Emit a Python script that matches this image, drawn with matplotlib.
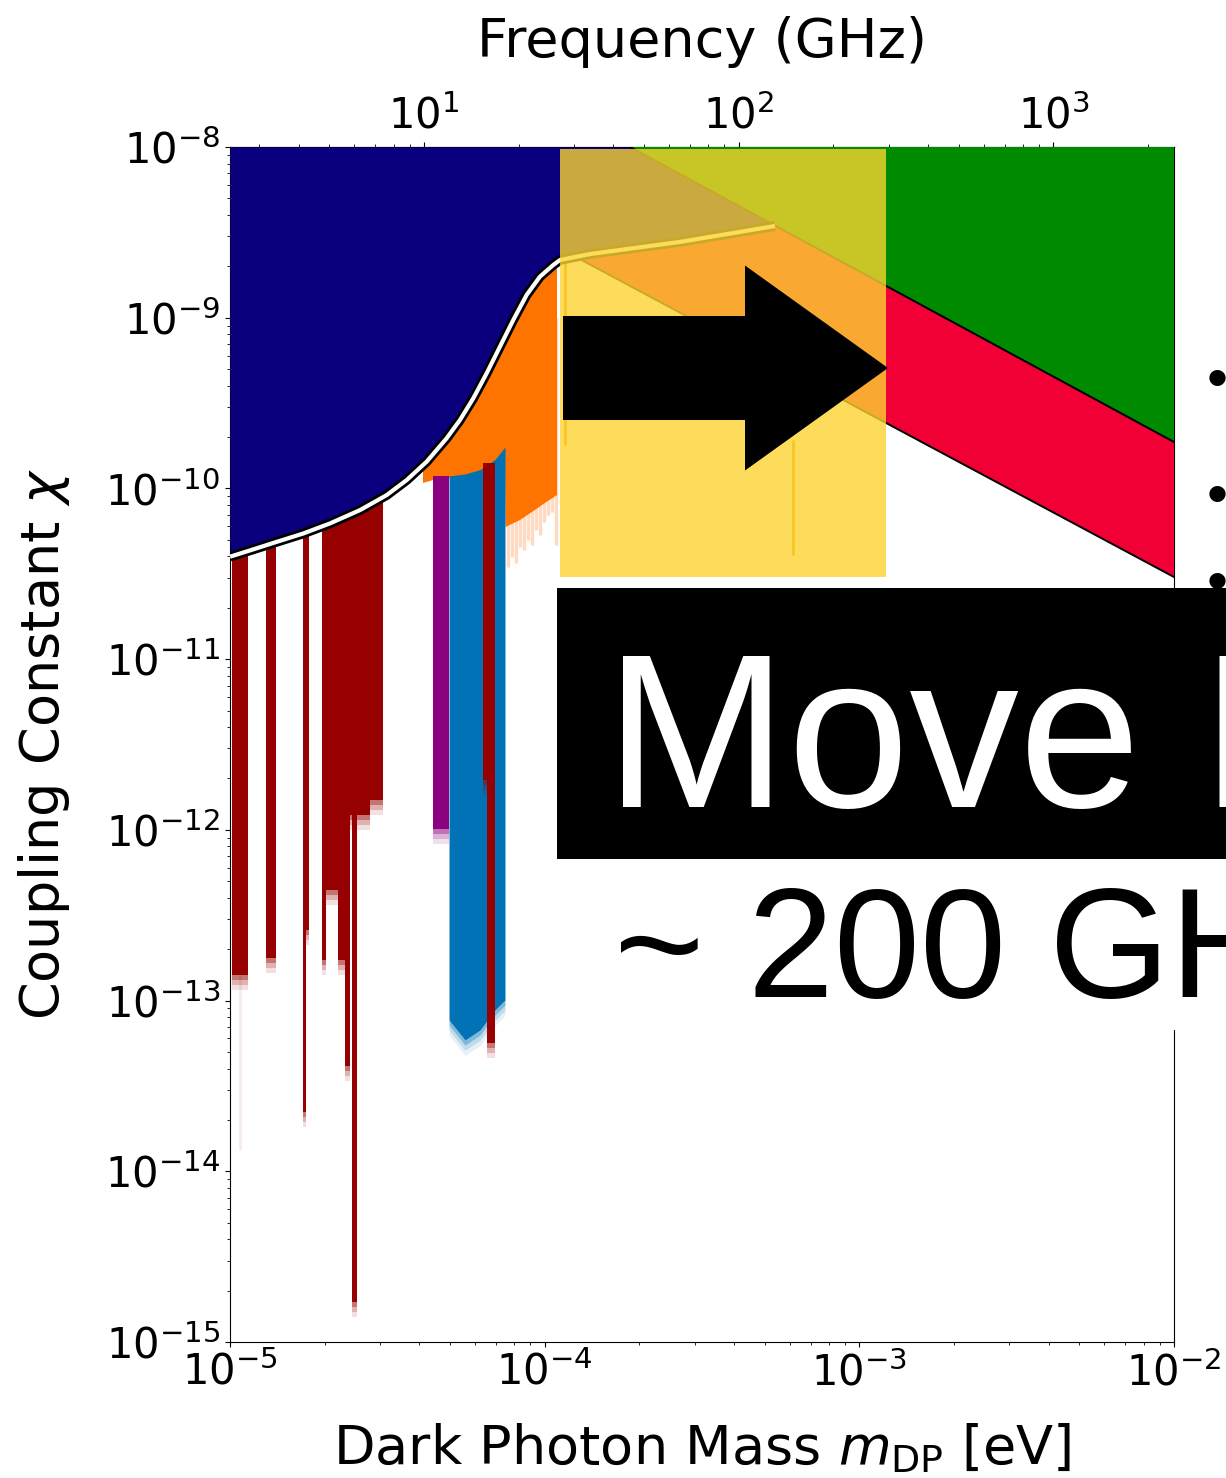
import numpy as np
import matplotlib
matplotlib.use('Agg')
import matplotlib.pyplot as plt
import matplotlib.patheffects as pe
from matplotlib.patches import Rectangle, FancyArrow

W, H = 1226, 1478

# exclusion boundary, log10(m/eV) and log10(chi)
bound_logm = [-5.0, -4.926, -4.8516, -4.7671, -4.6822, -4.5869, -4.502, -4.4385,
              -4.3749, -4.3114, -4.2691, -4.2268, -4.1842, -4.142, -4.0997,
              -4.0574, -4.0148, -3.9726, -3.9513, -3.856, -3.5699, -3.268]
bound_logchi = [-10.400, -10.357, -10.313, -10.264, -10.205, -10.127, -10.039, -9.951,
                -9.843, -9.706, -9.599, -9.472, -9.325, -9.169, -9.013,
                -8.867, -8.759, -8.691, -8.662, -8.627, -8.556, -8.463]

# haloscope-type limits: (log m lo, log m hi, log chi bottom)
darkred_bands = [
    (-4.9936, -4.9428, -12.850),
    (-4.8856, -4.8538, -12.751),
    (-4.7678, -4.7488, -12.587),
    (-4.7678, -4.7583, -13.653),
    (-4.7076, -4.6949, -12.763),
    (-4.6949, -4.6568, -12.352),
    (-4.6568, -4.6345, -12.763),
    (-4.6345, -4.6186, -13.383),
    (-4.6186, -4.5964, -11.913),
    (-4.6123, -4.5964, -14.766),
    (-4.5964, -4.5551, -11.913),
    (-4.5551, -4.5138, -11.825),
]
# the two narrow lines sitting inside the blue band
darkred_inner = [
    (-4.1960, -4.1833, -11.708),
    (-4.1833, -4.1579, -13.249),
]
darkred_faint = [(-4.9682, -13.875)]

purple_band = (-4.3549, -4.3040, -11.995)

blue_logm = [-4.3040, -4.2532, -4.2055, -4.1579, -4.1261]
blue_top = [-9.927, -9.915, -9.890, -9.830, -9.757]
blue_bot = [-13.114, -13.231, -13.173, -13.056, -12.997]

orange_logm = [-4.3867, -4.3549, -4.1261, -4.1245, -4.0784, -4.0308, -3.9990, -3.9608]
orange_bot = [-9.968, -9.951, -9.892, -10.226, -10.185, -10.126, -10.085, -10.039]

peach_logm = [-4.1166, -4.1038, -4.0911, -4.0784, -4.0657, -4.0530, -4.0403,
              -4.0276, -4.0149, -4.0021, -3.9894, -3.9767, -3.9640]
peach_bot = [-10.460, -10.402, -10.437, -10.343, -10.361, -10.302, -10.331,
             -10.244, -10.273, -10.197, -10.156, -10.138, -10.331]

# isolated narrow lines: (log m, log chi top, log chi bottom)
orange_lines = [(-3.9354, -8.66, -9.746), (-3.2108, -9.716, -10.390)]

# astrophysical / cosmological bounds (straight lines in log-log)
green_edge = [(-3.7288, -8.0), (-2.0, -9.728)]
red_logm = [-3.90, -3.856, -3.5699, -3.268, -2.0, -2.0]
red_logchi = [-8.645, -8.627, -8.556, -8.463, -9.728, -10.519]

NAVY = '#0a007e'
DARKRED = '#960000'
ORANGE = '#ff7400'


def ex(v):
    return 10 ** np.asarray(v, dtype=float)


def m2f(m):
    return m / 4.135667e-15 / 1e9


def f2m(f):
    return f * 4.135667e-15 * 1e9


def soft_band(ax, lo, hi, bot, top, color, z):
    # solid band plus a short fading tail below the limit
    ax.fill_between(ex([lo, hi]), ex(bot), ex(top), color=color, lw=0, zorder=z)
    for k, a in enumerate([0.55, 0.3, 0.12]):
        ax.fill_between(ex([lo, hi]), ex(bot - 0.03 * (k + 1)), ex(bot - 0.03 * k),
                        color=color, alpha=a, lw=0, zorder=z)


fig = plt.figure(figsize=(W / 100, H / 100), dpi=100)
ax = fig.add_axes([230 / W, 136 / H, 944 / W, 1195 / H])
ax.set_xscale('log')
ax.set_yscale('log')
ax.set_xlim(1e-5, 1e-2)
ax.set_ylim(1e-15, 1e-8)

for lo, hi, bot in darkred_bands:
    soft_band(ax, lo, hi, bot, -8.0, DARKRED, 1)
for lm, bot in darkred_faint:
    ax.vlines(ex(lm), ex(bot), 1e-10, color=DARKRED, alpha=0.08, lw=2, zorder=1)

ax.vlines(ex(peach_logm), ex(peach_bot), 1e-9, color='#ffa366', alpha=0.4,
          lw=2.4, zorder=1)
ax.fill(ex(orange_logm + orange_logm[::-1]),
        ex(orange_bot + [-8.0] * len(orange_logm)), color=ORANGE, lw=0, zorder=1.5)

lo, hi, bot = purple_band
soft_band(ax, lo, hi, bot, -9.93, '#8a007f', 2)
ax.fill_between(ex(blue_logm), ex(blue_bot), ex(blue_top), color='#0072b5', lw=0,
                zorder=2)
for k, a in enumerate([0.5, 0.25, 0.1]):
    ax.fill_between(ex(blue_logm), ex(np.array(blue_bot) - 0.03 * (k + 1)),
                    ex(np.array(blue_bot) - 0.03 * k), color='#0072b5', alpha=a,
                    lw=0, zorder=2)
for lo, hi, bot in darkred_inner:
    soft_band(ax, lo, hi, bot, -9.85, DARKRED, 2.1)

for lm, t, b in orange_lines:
    ax.vlines(ex(lm), ex(b), ex(t), color='#f08a00', lw=2, zorder=2)

# excluded region above the boundary
ax.fill_between(ex(bound_logm), ex(bound_logchi), 1e-8, color=NAVY, lw=0, zorder=3)

gx = [green_edge[0][0], green_edge[1][0], -2.0]
gy = [green_edge[0][1], green_edge[1][1], -8.0]
ax.fill(ex(gx), ex(gy), color='#008a00', lw=0, zorder=4)
ax.plot(ex([e[0] for e in green_edge]), ex([e[1] for e in green_edge]),
        color='black', lw=1.4, zorder=4.2)
ax.fill(ex(red_logm), ex(red_logchi), color='#f00035', lw=0, zorder=4)
ax.plot(ex([red_logm[0], red_logm[-1]]), ex([red_logchi[0], red_logchi[-1]]),
        color='black', lw=1.4, zorder=4.2)

ax.plot(ex(bound_logm), ex(bound_logchi), color='white', lw=3.0, zorder=5,
        solid_capstyle='butt',
        path_effects=[pe.Stroke(linewidth=7.0, foreground='black'), pe.Normal()])

ax.tick_params(labelsize=30)
ax.set_xlabel(r'Dark Photon Mass $m_{\rm DP}$ [eV]', fontsize=39, labelpad=20)
ax.set_ylabel(r'Coupling Constant $\chi$', fontsize=39, labelpad=24)

secax = ax.secondary_xaxis('top', functions=(m2f, f2m))
secax.tick_params(labelsize=30)
secax.set_xlabel('Frequency (GHz)', fontsize=39, labelpad=27)

# slide annotations on top of the plot
ov = fig.add_axes([0, 0, 1, 1], zorder=10)
ov.set_xlim(0, W)
ov.set_ylim(H, 0)
ov.axis('off')
ov.patch.set_alpha(0)

ov.add_patch(Rectangle((560, 149), 326, 428, facecolor='#fcd431', alpha=0.8, lw=0))
ov.add_patch(FancyArrow(563, 368, 325, 0, width=104, head_width=205,
                        head_length=143, length_includes_head=True,
                        color='black', lw=0))

sans = ['Liberation Sans', 'DejaVu Sans']
for yb in (398, 514, 601):
    ov.text(1217, yb, '\u2022', ha='center', va='baseline', fontsize=43,
            family=sans, color='black')

ov.add_patch(Rectangle((557, 588), 700, 271, facecolor='black', lw=0))
ov.text(605, 807, 'Move Frequency', color='white', fontsize=157.7, family=sans,
        va='baseline', ha='left')

ov.add_patch(Rectangle((557, 859), 700, 171, facecolor='white', lw=0))
ov.text(614, 997, '~ 200 GHz', color='black', fontsize=111.6, family=sans,
        va='baseline', ha='left')

fig.savefig('out.png', dpi=100)
